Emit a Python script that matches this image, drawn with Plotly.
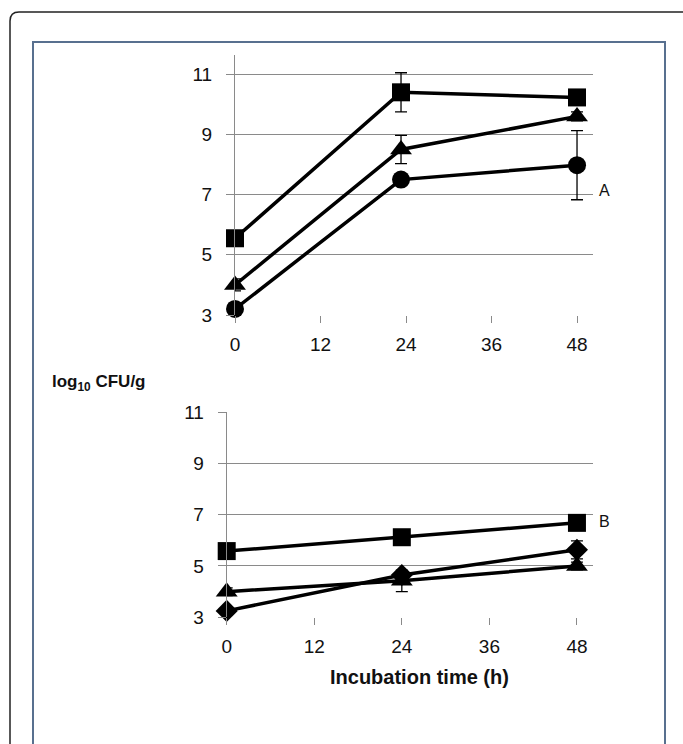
import plotly.graph_objects as go

W, H = 683, 744

# ---- data ----
time_a = [0, 23.3, 48]
a_square = [5.55, 10.4, 10.23]
a_square_err = [0.1, 0.65, 0.15]
a_triangle = [4.0, 8.5, 9.6]
a_triangle_err = [0.2, 0.47, 0.15]
a_circle = [3.2, 7.5, 7.98]
a_circle_err = [0.05, 0.05, 1.15]

time_b = [0, 24, 48]
b_square = [5.58, 6.12, 6.68]
b_square_err = [0.05, 0.05, 0.05]
b_triangle = [4.0, 4.42, 5.0]
b_triangle_err = [0.15, 0.42, 0.15]
b_diamond = [3.25, 4.65, 5.63]
b_diamond_err = [0.05, 0.1, 0.35]

x_ticks = [0, 12, 24, 36, 48]
y_ticks = [3, 5, 7, 9, 11]

fig = go.Figure()

def add(x, y, err, symbol, size, xa, ya):
    fig.add_trace(go.Scatter(
        x=x, y=y, mode="lines+markers",
        line=dict(color="black", width=3.5),
        marker=dict(symbol=symbol, size=size, color="black"),
        error_y=dict(type="data", array=err, visible=True, color="black",
                     thickness=1.3, width=6),
        xaxis=xa, yaxis=ya, showlegend=False, cliponaxis=False))

add(time_a, a_square, a_square_err, "square", 18, "x", "y")
add(time_a, a_triangle, a_triangle_err, "triangle-up", 19, "x", "y")
add(time_a, a_circle, a_circle_err, "circle", 18, "x", "y")
add(time_b, b_square, b_square_err, "square", 18, "x2", "y2")
add(time_b, b_triangle, b_triangle_err, "triangle-up", 19, "x2", "y2")
add(time_b, b_diamond, b_diamond_err, "diamond", 17, "x2", "y2")

def px(v):
    return v / W

def py(v):
    return 1 - v / H

grid = "#8a8a8a"
tickfont = dict(family="Liberation Sans, Arial", size=19, color="#111")

def xaxis(d, anchor):
    return dict(domain=d, anchor=anchor, range=[0, 50.2], tickvals=x_ticks,
                showgrid=False, zeroline=False, showline=False,
                ticks="outside", ticklen=7, tickcolor=grid, tickwidth=1,
                tickfont=tickfont, ticklabelstandoff=5, fixedrange=True,
                automargin=False)

def yaxis(d, anchor, top):
    return dict(domain=d, anchor=anchor, range=[3, top], tickvals=y_ticks,
                showgrid=True, gridcolor=grid, gridwidth=1, zeroline=False,
                showline=True, linecolor=grid, linewidth=1,
                ticks="outside", ticklen=8, tickcolor=grid, tickwidth=1,
                tickfont=tickfont, ticklabelstandoff=10, fixedrange=True,
                automargin=False)

fig.update_layout(
    width=W, height=H, margin=dict(l=0, r=0, t=0, b=0, autoexpand=False),
    paper_bgcolor="white", plot_bgcolor="rgba(0,0,0,0)",
    xaxis=xaxis([px(235), px(592.7)], "y"),
    yaxis=yaxis([py(315), py(55)], "x", 11.64),
    xaxis2=xaxis([px(226.7), px(593)], "y2"),
    yaxis2=yaxis([py(617.3), py(412)], "x2", 11),
)

# frames
r = 9
fig.add_shape(type="path", xref="paper", yref="paper",
              path=(f"M {px(10)},{py(760)} L {px(10)},{py(12 + r)} "
                    f"Q {px(10)},{py(12)} {px(10 + r)},{py(12)} "
                    f"L {px(700)},{py(12)}"),
              line=dict(color="#222", width=1.5))
fig.add_shape(type="rect", xref="paper", yref="paper",
              x0=px(33), y0=py(760), x1=px(665), y1=py(42),
              line=dict(color="#58708f", width=2))

lab = dict(family="Liberation Sans, Arial", color="#111")
fig.add_annotation(x=px(50), y=py(383), xref="paper", yref="paper",
                   text="<b>log<sub>10</sub> CFU/g</b>", showarrow=False,
                   xanchor="left", yanchor="middle", font=dict(size=17, **lab))
fig.add_annotation(x=px(604), y=py(190), xref="paper", yref="paper",
                   text="A", showarrow=False, xanchor="center",
                   yanchor="middle", font=dict(size=16, **lab))
fig.add_annotation(x=px(604), y=py(521), xref="paper", yref="paper",
                   text="B", showarrow=False, xanchor="center",
                   yanchor="middle", font=dict(size=16, **lab))
fig.add_annotation(x=px(419), y=py(677), xref="paper", yref="paper",
                   text="<b>Incubation time (h)</b>", showarrow=False,
                   xanchor="center", yanchor="middle",
                   font=dict(size=20, **lab))

fig.write_html("out.html")
